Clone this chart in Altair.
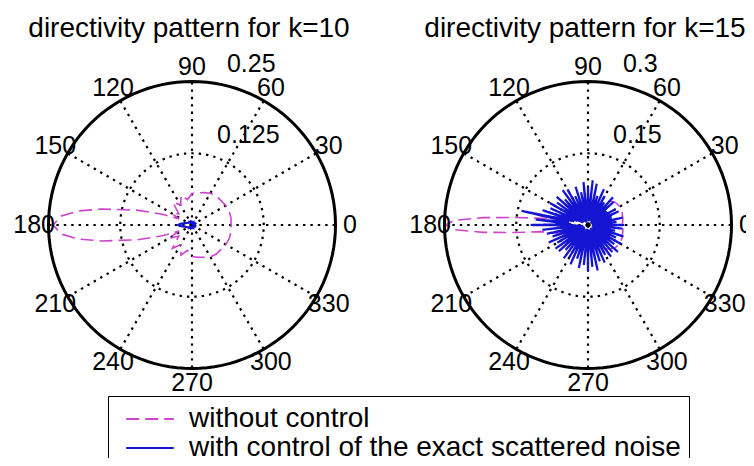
import altair as alt
import pandas as pd

# ---------------- data ----------------
panel_titles = ["directivity pattern for k=10", "directivity pattern for k=15"]
panel_rmax = [0.25, 0.3]
ring_values = [[0.125, 0.25], [0.15, 0.3]]
ring_texts = [["0.125", "0.25"], ["0.15", "0.3"]]
spoke_angles = [0, 30, 60, 90, 120, 150, 180, 210, 240, 270, 300, 330]
series_names = ["without control", "with control of the exact scattered noise"]

# k = 10, without control (magenta dashed)
k10_without_theta = [0, 10, 20, 30, 40, 50, 60, 70, 80, 90, 100, 110, 120, 130, 140, 150, 155,
                     160, 165, 170, 173, 176, 180, 184, 187, 190, 195, 200, 205, 210, 220, 230,
                     240, 250, 260, 270, 280, 290, 300, 310, 320, 330, 340, 350, 360]
k10_without_r = [0.068, 0.069, 0.069, 0.068, 0.066, 0.066, 0.064, 0.060, 0.057, 0.055, 0.045, 0.055,
                 0.040, 0.052, 0.030, 0.040, 0.025, 0.055, 0.100, 0.160, 0.200, 0.228, 0.242, 0.228,
                 0.200, 0.160, 0.100, 0.055, 0.025, 0.047, 0.030, 0.053, 0.040, 0.056, 0.045, 0.055,
                 0.057, 0.060, 0.064, 0.066, 0.066, 0.068, 0.069, 0.069, 0.068]

# k = 10, with control (blue solid)
k10_with_theta = [0, 10, 20, 30, 40, 50, 60, 70, 80, 90, 100, 110, 120, 130, 140, 150, 160, 170,
                  175, 180, 185, 190, 200, 210, 220, 230, 240, 250, 260, 270, 280, 290, 300, 310,
                  320, 330, 340, 350, 360]
k10_with_r = [0.006, 0.005, 0.006, 0.004, 0.005, 0.004, 0.005, 0.003, 0.004, 0.005, 0.004, 0.006,
              0.005, 0.007, 0.006, 0.008, 0.010, 0.016, 0.021, 0.024, 0.021, 0.015, 0.010, 0.008,
              0.006, 0.007, 0.005, 0.006, 0.004, 0.005, 0.004, 0.003, 0.005, 0.004, 0.005, 0.006,
              0.005, 0.006, 0.006]

# k = 15, without control (magenta dashed)
k15_without_theta = [0, 10, 20, 30, 40, 50, 60, 70, 80, 90, 100, 110, 120, 130, 140, 150, 155, 160,
                     164, 167, 170, 172, 174, 176, 178, 180, 182, 184, 186, 188, 190, 193, 196, 200,
                     205, 210, 220, 230, 240, 250, 260, 270, 280, 290, 300, 310, 320, 330, 340, 350, 360]
k15_without_r = [0.072, 0.074, 0.076, 0.077, 0.074, 0.066, 0.050, 0.040, 0.055, 0.050, 0.030, 0.050,
                 0.045, 0.025, 0.045, 0.040, 0.020, 0.040, 0.060, 0.075, 0.085, 0.100, 0.150, 0.220,
                 0.280, 0.298, 0.280, 0.220, 0.150, 0.100, 0.085, 0.075, 0.060, 0.040, 0.020, 0.040,
                 0.045, 0.025, 0.045, 0.050, 0.030, 0.050, 0.055, 0.040, 0.050, 0.066, 0.074, 0.077,
                 0.076, 0.074, 0.072]

# k = 15, with control (blue solid) - angles every 3 degrees
k15_with_theta = list(range(0, 361, 3))
k15_with_r = [0.076, 0.012, 0.060, 0.020, 0.074, 0.008, 0.052, 0.025, 0.070, 0.010,
              0.066, 0.018, 0.048, 0.006, 0.072, 0.022, 0.078, 0.012, 0.058, 0.028,
              0.070, 0.010, 0.082, 0.016, 0.064, 0.024, 0.088, 0.008, 0.094, 0.020,
              0.080, 0.014, 0.090, 0.026, 0.070, 0.010, 0.084, 0.018, 0.066, 0.006,
              0.086, 0.022, 0.090, 0.014, 0.072, 0.028, 0.088, 0.010, 0.080, 0.020,
              0.092, 0.012, 0.086, 0.024, 0.100, 0.030, 0.142, 0.040, 0.110, 0.035,
              0.120, 0.020, 0.096, 0.010, 0.088, 0.024, 0.078, 0.014, 0.090, 0.020,
              0.074, 0.008, 0.084, 0.026, 0.082, 0.012, 0.070, 0.018, 0.086, 0.010,
              0.078, 0.022, 0.090, 0.014, 0.074, 0.028, 0.092, 0.008, 0.084, 0.018,
              0.096, 0.012, 0.088, 0.024, 0.097, 0.010, 0.080, 0.020, 0.086, 0.014,
              0.072, 0.026, 0.082, 0.008, 0.076, 0.018, 0.084, 0.012, 0.068, 0.022,
              0.080, 0.010, 0.064, 0.016, 0.078, 0.024, 0.058, 0.008, 0.072, 0.020,
              0.076]

# ---------------- layout (pixels) ----------------
W, H = 738, 450
PX = 143.5                      # pixels per unit (panel radius)
CX_PX = [184, 580]              # panel centres in px from the left
CY_PX = 217                     # panel centre in px from the top
LABEL_R = 1.1                   # angle labels at 1.1 * rmax (as MATLAB polar)
TITLE_Y = 1.31                  # title baseline, in panel-radius units
FONT = "Liberation Sans"

panel_cx = [(c - CX_PX[0]) / PX for c in CX_PX]
x_dom = [-CX_PX[0] / PX, (W - CX_PX[0]) / PX]
y_dom = [-(H - CY_PX) / PX, CY_PX / PX]

xs = alt.X("x:Q", scale=alt.Scale(domain=x_dom, nice=False, zero=False), axis=None)
ys = alt.Y("y:Q", scale=alt.Scale(domain=y_dom, nice=False, zero=False), axis=None)

panels = pd.DataFrame({"panel": [0, 1], "cx": panel_cx, "rmax": panel_rmax, "title": panel_titles})

# ---------------- curves ----------------
frames = []
for p, name, th, rr in [
    (0, series_names[0], k10_without_theta, k10_without_r),
    (0, series_names[1], k10_with_theta, k10_with_r),
    (1, series_names[0], k15_without_theta, k15_without_r),
    (1, series_names[1], k15_with_theta, k15_with_r),
]:
    frames.append(pd.DataFrame({"panel": p, "series": name, "theta": th, "r": rr,
                                "i": list(range(len(th)))}))
curves = pd.concat(frames).merge(panels[["panel", "cx", "rmax"]], on="panel")

color = alt.Color("series:N", scale=alt.Scale(domain=series_names, range=["#cc44cc", "#1414d2"]),
                  legend=alt.Legend(title=None, orient="none", legendX=100, legendY=388,
                                    direction="vertical", symbolType="M-1.7,0H1.7",
                                    symbolSize=784, symbolStrokeWidth=2,
                                    symbolFillColor="transparent",
                                    labelFontSize=28, labelFont=FONT,
                                    labelColor="black", labelOffset=24, padding=8,
                                    symbolOffset=19,
                                    strokeColor="black", fillColor="white", labelLimit=1000,
                                    rowPadding=0))
dash = alt.StrokeDash("series:N", scale=alt.Scale(domain=series_names, range=[[13, 6], [1, 0]]),
                      legend=None)

curve_base = alt.Chart(curves).transform_calculate(
    x="datum.cx + datum.r / datum.rmax * cos(datum.theta * PI / 180)",
    y="datum.r / datum.rmax * sin(datum.theta * PI / 180)",
)
line_without = curve_base.transform_filter(alt.datum.series == series_names[0]).mark_line(
    strokeWidth=1.6).encode(x=xs, y=ys, color=color, strokeDash=dash, detail="panel:N", order="i:Q")
line_with = curve_base.transform_filter(alt.datum.series == series_names[1]).mark_line(
    strokeWidth=2.2).encode(x=xs, y=ys, color=color, strokeDash=dash, detail="panel:N", order="i:Q")

# ---------------- polar grid ----------------
spokes = pd.DataFrame([{"panel": p, "cx": panel_cx[p], "a": a} for p in (0, 1) for a in spoke_angles])
spoke_layer = alt.Chart(spokes).transform_calculate(
    x="datum.cx", y="0",
    x2="datum.cx + cos(datum.a * PI / 180)", y2="sin(datum.a * PI / 180)",
).mark_rule(color="black", strokeWidth=2.2, strokeDash=[2.4, 5]).encode(
    x=xs, y=ys, x2="x2:Q", y2="y2:Q")

ring_angle_grid = list(range(0, 361, 3))
ring_rows = []
for p in (0, 1):
    for ri, rv in enumerate(ring_values[p]):
        for j, a in enumerate(ring_angle_grid):
            ring_rows.append({"panel": p, "ring": ri, "cx": panel_cx[p],
                              "rn": rv / panel_rmax[p], "a": a, "j": j})
rings = pd.DataFrame(ring_rows)
ring_base = alt.Chart(rings).transform_calculate(
    x="datum.cx + datum.rn * cos(datum.a * PI / 180)",
    y="datum.rn * sin(datum.a * PI / 180)",
)
inner_rings = ring_base.transform_filter("datum.rn < 0.99").mark_line(
    color="black", strokeWidth=2.2, strokeDash=[2.4, 5]).encode(
    x=xs, y=ys, detail="panel:N", order="j:Q")
outer_rings = ring_base.transform_filter("datum.rn >= 0.99").mark_line(
    color="black", strokeWidth=3).encode(x=xs, y=ys, detail="panel:N", order="j:Q")

# angle labels
angle_labels = alt.Chart(spokes).transform_calculate(
    x=f"datum.cx + {LABEL_R} * cos(datum.a * PI / 180)",
    y=f"{LABEL_R} * sin(datum.a * PI / 180)",
    t="'' + datum.a",
).mark_text(font=FONT, fontSize=25, color="black", align="center", baseline="middle").encode(
    x=xs, y=ys, text="t:N")

# radial tick labels at 82 degrees (MATLAB polar convention)
rl = pd.DataFrame([{"panel": p, "cx": panel_cx[p], "rn": ring_values[p][i] / panel_rmax[p],
                    "t": ring_texts[p][i]} for p in (0, 1) for i in range(2)])
ring_label_layer = alt.Chart(rl).transform_calculate(
    x="datum.cx + (datum.rn + 0.05) * cos(82 * PI / 180)",
    y="(datum.rn + 0.05) * sin(82 * PI / 180)",
).mark_text(font=FONT, fontSize=25, color="black", align="left", baseline="bottom", dx=14,
            dy=1).encode(x=xs, y=ys, text="t:N")

# titles
title_layer = alt.Chart(panels).transform_calculate(y=f"{TITLE_Y}", x="datum.cx").mark_text(
    font=FONT, fontSize=28, color="black", align="center", baseline="alphabetic", dx=-3).encode(
    x=xs, y=ys, text="title:N")

chart = alt.layer(
    spoke_layer, inner_rings, line_without, line_with, outer_rings,
    angle_labels, ring_label_layer, title_layer,
).properties(
    width=W, height=H, padding=0, autosize=alt.AutoSizeParams(type="none"),
    background="white",
).configure_view(stroke=None)

chart.save("out.html", embed_options={"renderer": "svg", "actions": False})
